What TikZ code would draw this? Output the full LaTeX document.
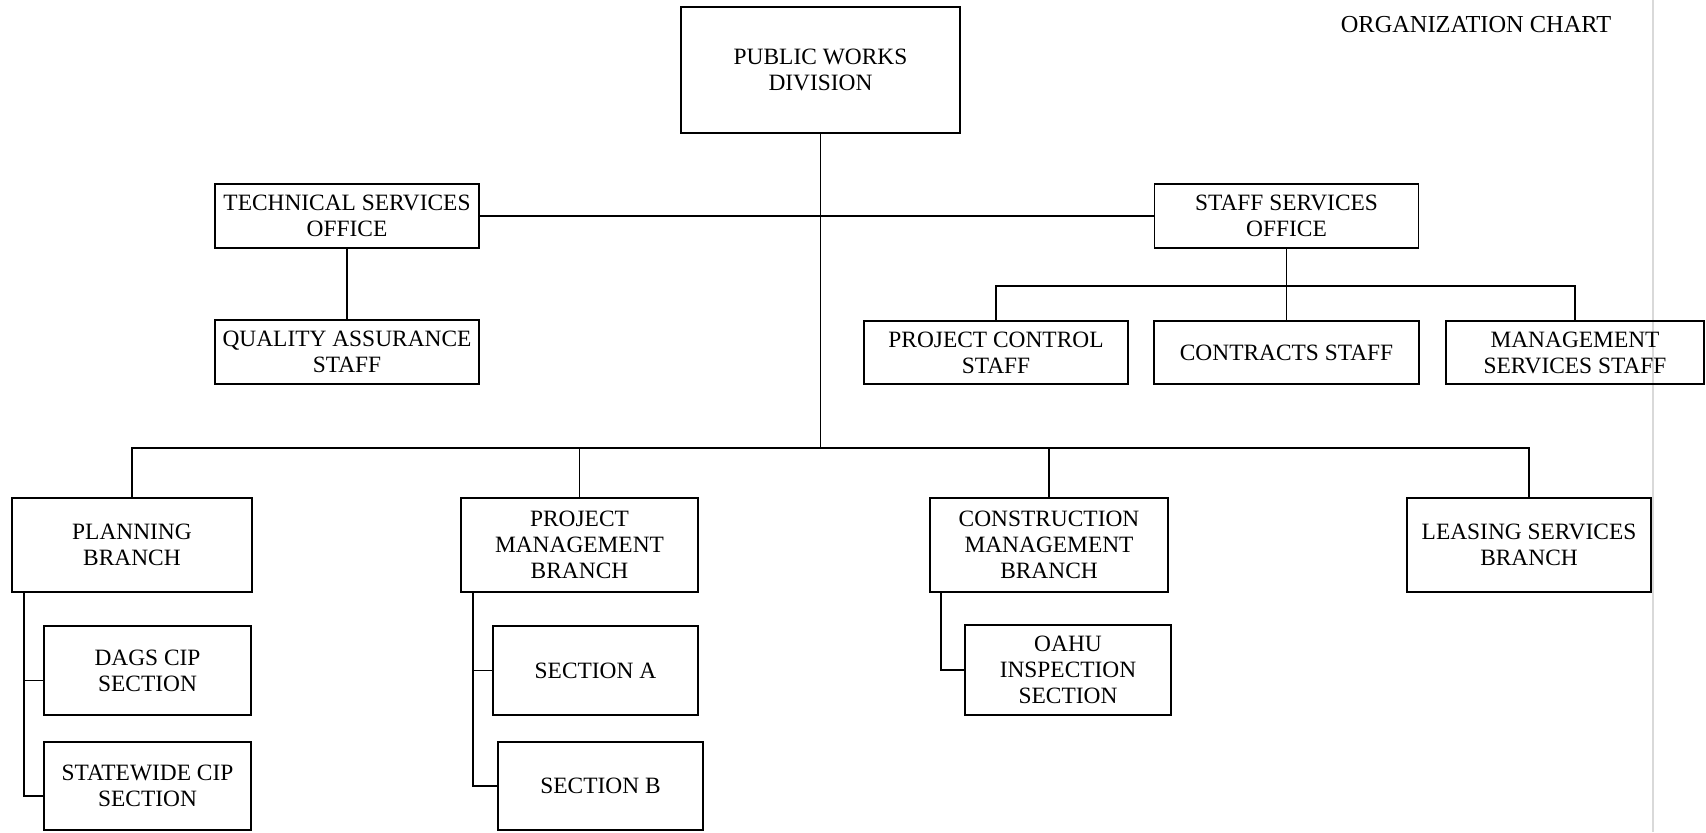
\documentclass[tikz,border=0pt]{standalone}
\usepackage{fontspec}
\setmainfont{Liberation Serif}
\begin{document}
\begin{tikzpicture}[x=0.5pt,y=-0.5pt,line width=0.9pt]

        \useasboundingbox (0,0) rectangle (1706,832);
        \draw[black!15,line width=0.6pt] (1653,0) -- (1653,832);

        \node[font=\fontsize{12.2}{14}\selectfont] (title) at (1476,25) {ORGANIZATION CHART};

        \begin{scope}[every node/.style={rectangle,draw,align=center,inner sep=2pt,
            font=\fontsize{11.7}{13}\selectfont}]
          \node[minimum width=139.5pt,minimum height=63pt] (pwd) at (820.5,70) {PUBLIC WORKS\\DIVISION};
          \node[minimum width=132pt,minimum height=32pt] (tso) at (347,216) {TECHNICAL SERVICES\\OFFICE};
          \node[minimum width=132pt,minimum height=32pt] (qas) at (347,352) {QUALITY ASSURANCE\\STAFF};
          \node[minimum width=132pt,minimum height=32pt] (sso) at (1286.5,216) {STAFF SERVICES\\OFFICE};
          \node[minimum width=132pt,minimum height=31.5pt] (pcs) at (996,352.5) {PROJECT CONTROL\\STAFF};
          \node[minimum width=132.5pt,minimum height=31.5pt] (cs) at (1286.5,352.5) {CONTRACTS STAFF};
          \node[minimum width=129pt,minimum height=31.5pt] (mss) at (1575,352.5) {MANAGEMENT\\SERVICES STAFF};
          \node[minimum width=120pt,minimum height=47pt] (plb) at (132,545) {PLANNING\\BRANCH};
          \node[minimum width=118.5pt,minimum height=47pt] (pmb) at (579.5,545) {PROJECT\\MANAGEMENT\\BRANCH};
          \node[minimum width=119pt,minimum height=47pt] (cmb) at (1049,545) {CONSTRUCTION\\MANAGEMENT\\BRANCH};
          \node[minimum width=122pt,minimum height=47pt] (lsb) at (1529,545) {LEASING SERVICES\\BRANCH};
          \node[minimum width=103.5pt,minimum height=44.5pt] (dags) at (147.5,670.5) {DAGS CIP\\SECTION};
          \node[minimum width=103.5pt,minimum height=44pt] (swc) at (147.5,786) {STATEWIDE CIP\\SECTION};
          \node[minimum width=102.5pt,minimum height=44.5pt] (seca) at (595.5,670.5) {SECTION A};
          \node[minimum width=102.5pt,minimum height=44pt] (secb) at (600.5,786) {SECTION B};
          \node[minimum width=103pt,minimum height=45pt] (oahu) at (1068,670) {OAHU\\INSPECTION\\SECTION};
        \end{scope}

        \coordinate (bus) at (820.5,448);
        \coordinate (sbus) at (1286.5,286);

        \draw (pwd.south) -- (bus);
        \draw (tso.east) -- (sso.west);
        \draw (tso.south) -- (qas.north);
        \draw (sso.south) -- (cs.north);
        \draw (pcs.north) |- (sbus) -| (mss.north);
        \draw (plb.north) -- (plb.north |- bus) -- (lsb.north |- bus) -- (lsb.north);
        \draw (pmb.north) -- (pmb.north |- bus);
        \draw (cmb.north) -- (cmb.north |- bus);

        \draw ([xshift=6.5pt]plb.south west) |- ([yshift=-5pt]dags.west);
        \draw ([xshift=6.5pt]plb.south west) |- ([yshift=-5pt]swc.west);
        \draw ([xshift=6.5pt]pmb.south west) |- (seca.west);
        \draw ([xshift=6.5pt]pmb.south west) |- (secb.west);
        \draw ([xshift=6pt]cmb.south west) |- (oahu.west);

      \end{tikzpicture}
\end{document}
